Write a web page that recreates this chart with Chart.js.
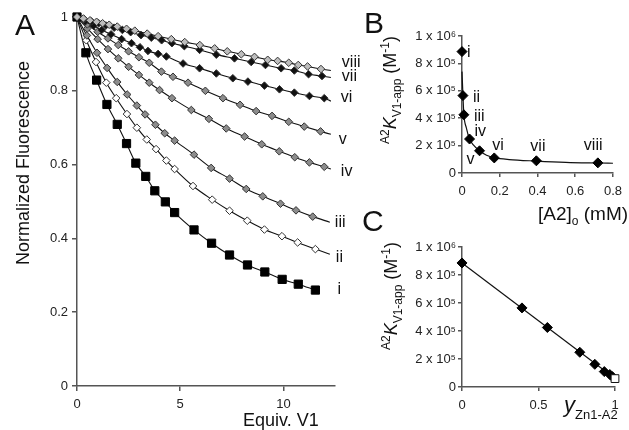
<!DOCTYPE html>
<html>
<head>
<meta charset="utf-8">
<script src="https://cdn.jsdelivr.net/npm/chart.js@4.4.1/dist/chart.umd.min.js"></script>
<style>
  body { margin: 0; background: #fff; }
  #figure { position: relative; width: 629px; height: 430px; overflow: hidden; font-family: 'Liberation Sans', Arial, sans-serif; color: #111; }
  canvas { position: absolute; }
  .txt { position: absolute; white-space: nowrap; line-height: 1; }
  .rot { transform: translate(-50%, -50%) rotate(-90deg); }
  .panel { font-size: 30px; }
  sup, sub { font-size: 12px; line-height: 0; }
  .low { vertical-align: -7px; font-size: 13px; }
</style>
</head>
<body>
<div id="figure">
  <canvas id="fluorChart" width="360" height="430" style="left:0;top:0"></canvas>
  <canvas id="kappConcChart" width="249" height="200" style="left:380px;top:0"></canvas>
  <canvas id="kappFracChart" width="249" height="215" style="left:380px;top:215px"></canvas>

  <div class="txt panel" style="left:15px;top:10px">A</div>
  <div class="txt panel" style="left:364px;top:8px">B</div>
  <div class="txt panel" style="left:362px;top:206px">C</div>

  <div class="txt rot" style="left:23px;top:163px;font-size:18px">Normalized Fluorescence</div>
  <div class="txt" style="left:243px;top:411px;font-size:18px">Equiv. V1</div>

  <div class="txt rot" style="left:390px;top:90px;font-size:18px"><sup>A2</sup><i>K</i><sub>V1-app</sub> (M<sup>-1</sup>)</div>
  <div class="txt" style="left:538px;top:204px;font-size:19px">[A2]<sub>o</sub> (mM)</div>

  <div class="txt rot" style="left:391px;top:296px;font-size:18px"><sup>A2</sup><i>K</i><sub>V1-app</sub> (M<sup>-1</sup>)</div>
  <div class="txt" style="left:564px;top:394px;font-size:22px"><i>y</i><span class="low">Zn1-A2</span></div>
</div>

<script>
const FONT = "'Liberation Sans', Arial, sans-serif";

// Panel A: normalized fluorescence vs equivalents of V1, one titration per [A2]
const seriesNames = ['i', 'ii', 'iii', 'iv', 'v', 'vi', 'vii', 'viii'];

const equivI = [0, 0.43, 0.95, 1.45, 1.95, 2.4, 2.85, 3.33, 3.77, 4.28, 4.73, 5.67, 6.52, 7.39, 8.26, 9.1, 9.94, 10.72, 11.55];
const fluorI = [1, 0.903, 0.829, 0.763, 0.709, 0.657, 0.604, 0.568, 0.529, 0.499, 0.47, 0.423, 0.387, 0.355, 0.328, 0.309, 0.289, 0.276, 0.26];

const equivII = [0, 0.45, 0.92, 1.42, 1.9, 2.42, 2.9, 3.38, 3.83, 4.33, 4.73, 5.62, 6.55, 7.39, 8.25, 9.08, 9.93, 10.69, 11.55];
const fluorII = [1, 0.937, 0.878, 0.822, 0.78, 0.737, 0.7, 0.668, 0.642, 0.611, 0.588, 0.542, 0.505, 0.475, 0.448, 0.424, 0.406, 0.389, 0.371];

const equivIII = [0, 0.48, 0.97, 1.46, 1.95, 2.43, 2.9, 3.3, 3.8, 4.25, 4.73, 5.67, 6.5, 7.39, 8.2, 9.0, 9.86, 10.61, 11.42];
const fluorIII = [1, 0.95, 0.903, 0.862, 0.824, 0.79, 0.76, 0.736, 0.708, 0.685, 0.665, 0.627, 0.591, 0.562, 0.534, 0.514, 0.494, 0.476, 0.459];

const equivIV = [0, 0.5, 1.0, 1.5, 2.0, 2.5, 3.0, 3.5, 4.0, 4.6, 5.54, 6.39, 7.23, 8.12, 8.95, 9.8, 10.55, 11.26, 11.98];
const fluorIV = [1, 0.969, 0.94, 0.913, 0.888, 0.865, 0.843, 0.822, 0.802, 0.78, 0.748, 0.724, 0.698, 0.676, 0.655, 0.636, 0.62, 0.606, 0.594];

const equivV = [0, 0.5, 1.0, 1.5, 2.0, 2.5, 3.0, 3.5, 4.09, 4.65, 5.38, 6.22, 7.07, 7.9, 8.68, 9.45, 10.26, 11.01, 11.8];
const fluorV = [1, 0.98, 0.96, 0.942, 0.924, 0.907, 0.891, 0.876, 0.852, 0.838, 0.822, 0.8, 0.78, 0.762, 0.745, 0.732, 0.716, 0.703, 0.69];

const equivVI = [0, 0.4, 0.8, 1.2, 1.65, 2.16, 2.64, 3.05, 3.44, 3.93, 4.33, 5.14, 5.94, 6.75, 7.55, 8.28, 9.08, 9.81, 10.53, 11.26, 11.98];
const fluorVI = [1, 0.988, 0.976, 0.965, 0.953, 0.94, 0.929, 0.918, 0.908, 0.9, 0.893, 0.874, 0.861, 0.847, 0.834, 0.825, 0.814, 0.804, 0.795, 0.786, 0.78];

const equivVII = [0, 0.35, 0.7, 1.05, 1.4, 1.8, 2.2, 2.6, 3.1, 3.6, 4.1, 4.6, 5.2, 5.94, 6.75, 7.63, 8.44, 9.13, 9.89, 10.53, 11.22, 11.87];
const fluorVII = [1, 0.994, 0.988, 0.983, 0.977, 0.971, 0.965, 0.959, 0.951, 0.944, 0.937, 0.929, 0.921, 0.911, 0.898, 0.888, 0.878, 0.87, 0.861, 0.855, 0.845, 0.84];

const equivVIII = [0, 0.31, 0.63, 0.95, 1.24, 1.56, 1.95, 2.4, 2.8, 3.4, 3.93, 4.57, 5.22, 5.95, 6.67, 7.28, 7.96, 8.6, 9.24, 9.72, 10.26, 10.72, 11.17, 11.82];
const fluorVIII = [1, 0.996, 0.991, 0.987, 0.983, 0.979, 0.974, 0.968, 0.963, 0.955, 0.948, 0.94, 0.932, 0.924, 0.915, 0.907, 0.899, 0.892, 0.884, 0.881, 0.876, 0.87, 0.866, 0.859];

// where each fitted curve stops past its last point (i stops on its last point)
const fitEndEquiv = [null, 12.25, 12.25, 12.3, 12.3, 12.3, 12.3, 12.3];
const fitEndFluor = [null, 0.357, 0.444, 0.588, 0.682, 0.772, 0.836, 0.855];

// Panels B and C: apparent V1 affinity per titration
const a2Conc = [0, 0.005, 0.01, 0.04, 0.093, 0.171, 0.394, 0.72];
const kApp = [886000, 565000, 425000, 248000, 162000, 110000, 89000, 74000];
const yZnA2 = [0, 0.392, 0.558, 0.77, 0.868, 0.93, 0.966, 0.983];

const fitConc = [0, 0.005, 0.01, 0.023, 0.04, 0.06, 0.093, 0.13, 0.171, 0.25, 0.394, 0.55, 0.72, 0.8];
const fitKConc = [740000, 565000, 425000, 330000, 248000, 205000, 162000, 130000, 112000, 98000, 87000, 78000, 73000, 71000];

const fitFrac = [0, 1];
const fitKFrac = [886000, 60000];
const freeFrac = [1];
const freeK = [60000];

const SUP = { 5: '\u2075', 6: '\u2076' };

function sciTick(value) {
  if (value === 0) return '0';
  const exp = Math.floor(Math.log10(value) + 1e-9);
  const mant = Math.round(value / Math.pow(10, exp));
  return mant + ' x 10' + SUP[exp];
}

function axisOptions(min, max, step, format, fit, tickLength, padding) {
  return {
    type: 'linear',
    min: min,
    max: max,
    afterFit: fit,
    border: { color: '#555', width: 1.5 },
    grid: { drawOnChartArea: false, drawTicks: true, tickLength: tickLength, color: '#555', lineWidth: 1.5 },
    ticks: {
      stepSize: step,
      includeBounds: false,
      autoSkip: false,
      maxRotation: 0,
      padding: padding,
      color: '#222',
      font: { family: FONT, size: 13 },
      callback: format,
    },
  };
}

// draws roman numeral tags next to a point of a dataset
function tagPlugin(id, items) {
  return {
    id: id,
    afterDatasetsDraw(chart) {
      const ctx = chart.ctx;
      ctx.save();
      ctx.font = '16px ' + FONT;
      ctx.fillStyle = '#111';
      ctx.textAlign = 'left';
      ctx.textBaseline = 'middle';
      items.forEach((item) => {
        const meta = chart.getDatasetMeta(item.dataset);
        const pt = meta.data[item.index !== undefined ? item.index : meta.data.length - 1];
        ctx.fillText(item.text, pt.x + item.dx, pt.y + item.dy);
      });
      ctx.restore();
    },
  };
}

function chartFluorescence(id) {
  const ctx = document.getElementById(id);
  const equivs = [equivI, equivII, equivIII, equivIV, equivV, equivVI, equivVII, equivVIII];
  const fluors = [fluorI, fluorII, fluorIII, fluorIV, fluorV, fluorVI, fluorVII, fluorVIII];
  const fills = ['#000', '#fff', '#8c8c8c', '#8c8c8c', '#8c8c8c', '#111', '#111', '#bdbdbd'];

  const datasets = equivs.map((equiv, k) => {
    const points = equiv.map((x, j) => ({ x: x, y: fluors[k][j] }));
    const radius = points.map(() => (k === 0 ? 5.8 : 3.8));
    if (fitEndEquiv[k] !== null) {
      points.push({ x: fitEndEquiv[k], y: fitEndFluor[k] });
      radius.push(0);
    }
    return {
      label: seriesNames[k],
      data: points,
      order: equivs.length - k,
      borderColor: '#111',
      borderWidth: 1.1,
      cubicInterpolationMode: 'monotone',
      pointStyle: k === 0 ? 'rect' : 'rectRot',
      pointRadius: radius,
      pointBackgroundColor: fills[k],
      pointBorderColor: k === 0 ? '#000' : '#333',
      pointBorderWidth: 1,
      clip: false,
    };
  });

  const dx = [22, 6, 5, 10, 8, 10, 11, 11];
  const dy = [0, 3, 0, 3, 5, -4, -1, -8];
  const tags = seriesNames.map((name, k) => ({ dataset: k, text: name, dx: dx[k], dy: dy[k] }));

  new Chart(ctx, {
    type: 'line',
    data: { datasets: datasets },
    options: {
      responsive: false,
      animation: false,
      events: [],
      layout: { padding: { left: 0, top: 17, right: 25, bottom: 0 } },
      scales: {
        x: axisOptions(0, 12.5, 5, (v) => v, (s) => { s.height = 44; }, 5, 6),
        y: axisOptions(0, 1, 0.2, (v) => +v.toFixed(1), (s) => { s.width = 77; }, 5, 4),
      },
      plugins: { legend: { display: false }, tooltip: { enabled: false } },
    },
    plugins: [tagPlugin('fluorTags', tags)],
  });
}

function chartKappConc(id) {
  const ctx = document.getElementById(id);
  const offsets = [[5, 1], [10, 2], [10, 2], [5, -7], [-13, 9], [-2, -12], [-6, -14.5], [-14, -17]];
  const tags = seriesNames.map((name, k) => ({ dataset: 0, index: k, text: name, dx: offsets[k][0], dy: offsets[k][1] }));

  new Chart(ctx, {
    type: 'line',
    data: {
      datasets: [
        {
          data: a2Conc.map((x, k) => ({ x: x, y: kApp[k] })),
          showLine: false,
          order: 0,
          pointStyle: 'rectRot',
          pointRadius: 5,
          pointBackgroundColor: '#000',
          pointBorderColor: '#000',
          clip: false,
        },
        {
          data: fitConc.map((x, k) => ({ x: x, y: fitKConc[k] })),
          order: 1,
          borderColor: '#111',
          borderWidth: 1.2,
          pointRadius: 0,
          cubicInterpolationMode: 'monotone',
          clip: false,
        },
      ],
    },
    options: {
      responsive: false,
      animation: false,
      events: [],
      layout: { padding: { left: 0, top: 36, right: 14, bottom: 0 } },
      scales: {
        x: axisOptions(0, 0.8, 0.2, (v) => +v.toFixed(1), (s) => { s.height = 27; }, 4, 7),
        y: axisOptions(0, 1000000, 200000, sciTick, (s) => { s.width = 82; }, 4, 2),
      },
      plugins: { legend: { display: false }, tooltip: { enabled: false } },
    },
    plugins: [tagPlugin('concTags', tags)],
  });
}

function chartKappFraction(id) {
  const ctx = document.getElementById(id);

  new Chart(ctx, {
    type: 'line',
    data: {
      datasets: [
        {
          data: yZnA2.map((x, k) => ({ x: x, y: kApp[k] })),
          showLine: false,
          order: 1,
          pointStyle: 'rectRot',
          pointRadius: 5,
          pointBackgroundColor: '#000',
          pointBorderColor: '#000',
          clip: false,
        },
        {
          data: freeFrac.map((x, k) => ({ x: x, y: freeK[k] })),
          showLine: false,
          order: 0,
          pointStyle: 'rect',
          pointRadius: 5.5,
          pointBackgroundColor: '#fff',
          pointBorderColor: '#111',
          pointBorderWidth: 1,
          clip: false,
        },
        {
          data: fitFrac.map((x, k) => ({ x: x, y: fitKFrac[k] })),
          order: 2,
          borderColor: '#111',
          borderWidth: 1.2,
          pointRadius: 0,
          clip: false,
        },
      ],
    },
    options: {
      responsive: false,
      animation: false,
      events: [],
      layout: { padding: { left: 0, top: 32, right: 14, bottom: 0 } },
      scales: {
        x: axisOptions(0, 1, 0.5, (v) => v, (s) => { s.height = 43; }, 4, 7),
        y: axisOptions(0, 1000000, 200000, sciTick, (s) => { s.width = 82; }, 4, 2),
      },
      plugins: { legend: { display: false }, tooltip: { enabled: false } },
    },
  });
}

chartFluorescence('fluorChart');
chartKappConc('kappConcChart');
chartKappFraction('kappFracChart');
</script>
</body>
</html>
